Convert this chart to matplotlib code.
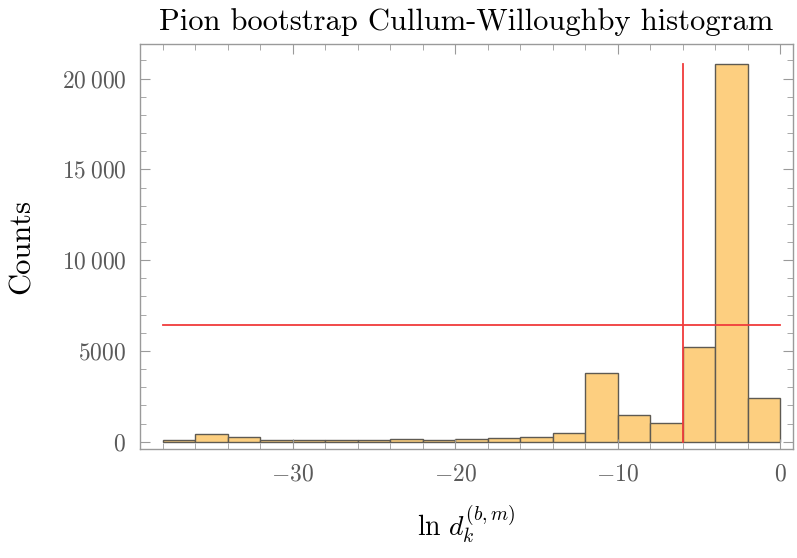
import numpy as np
import matplotlib.pyplot as plt
from matplotlib.ticker import MultipleLocator

plt.rcParams['mathtext.fontset'] = 'cm'
plt.rcParams['font.family'] = ['cmr10', 'DejaVu Serif']
plt.rcParams['axes.formatter.use_mathtext'] = True

# histogram data (bin left edges, width 2)
bin_edges = np.arange(-38, 0, 2)
counts = [75, 440, 245, 115, 80, 70, 100, 130, 110, 145,
          180, 255, 500, 3760, 1465, 1060, 5200, 20800, 2420]

# red reference lines
vline_x = -6
vline_top = 20800
hline_y = 6430

fig = plt.figure(figsize=(7.97, 5.58), dpi=100)
ax = fig.add_axes([0.1757, 0.1953, 0.995 - 0.1757, 0.921 - 0.1953])

ax.bar(bin_edges, counts, width=2, align='edge', color='#fdcf80',
       edgecolor='#5e5a52', linewidth=1.0)

ax.plot([vline_x, vline_x], [0, vline_top], color='#f03c3c', lw=1.3)
ax.plot([-38, 0], [hline_y, hline_y], color='#f03c3c', lw=1.3)

ax.set_xlim(-39.4, 0.8)
ax.set_ylim(-400, 21900)

ax.xaxis.set_minor_locator(MultipleLocator(2))
ax.yaxis.set_minor_locator(MultipleLocator(1000))

ax.set_xticks([-30, -20, -10, 0])
ax.set_xticklabels([r'$-30$', r'$-20$', r'$-10$', r'$0$'])
ax.set_yticks([0, 5000, 10000, 15000, 20000])
ax.set_yticklabels([r'$0$', r'$5000$', r'$10\:000$', r'$15\:000$', r'$20\:000$'])

for s in ax.spines.values():
    s.set_color('#9a9a9a')
    s.set_linewidth(1.0)
ax.tick_params(which='both', direction='in', top=True, right=True,
               colors='#9a9a9a', labelcolor='#5a5a5a', labelsize=17)
ax.tick_params(which='major', length=7)
ax.tick_params(which='minor', length=4)
ax.tick_params(axis='x', pad=10)
ax.tick_params(axis='y', pad=10)

ax.set_title('Pion bootstrap Cullum-Willoughby histogram', fontsize=22, pad=10)
ax.set_ylabel('Counts', fontsize=22)
ax.yaxis.set_label_coords(-0.16, 0.5)
ax.set_xlabel(r'$\ln\, d_k^{(b,m)}$', fontsize=20, labelpad=13)

fig.savefig('out.png', dpi=100)
